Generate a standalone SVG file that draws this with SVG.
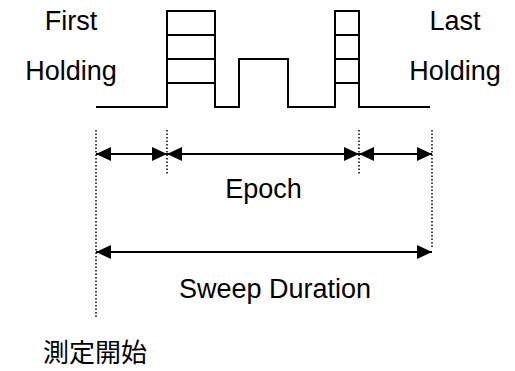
<svg xmlns="http://www.w3.org/2000/svg" width="515" height="371" viewBox="0 0 515 371">
<style>
.t{font-family:"Liberation Sans",Arial,sans-serif;font-size:27px;fill:#000}
.j{font-family:"Noto Sans CJK JP","Noto Sans CJK SC",sans-serif;font-size:26px;fill:#000}
.w{fill:none;stroke:#000;stroke-width:2;stroke-linejoin:miter}
.d{fill:none;stroke:#000;stroke-width:1.5;stroke-dasharray:1.5 2}
.a{fill:none;stroke:#000;stroke-width:2}
</style>
<defs>
<marker id="ah" viewBox="0 0 15 14" refX="15" refY="7" markerWidth="15" markerHeight="14" markerUnits="userSpaceOnUse" orient="auto-start-reverse">
<path d="M0,0 L15,7 L0,14 Z" fill="#000"/>
</marker>
</defs>
<g id="waveform">
<path class="w" d="M96,107 H167 V11 H215 V107 H239 V59 H288 V107 H335 V11 H359 V107 H430"/>
<path class="w" d="M167,35 H215 M167,59 H215 M167,83 H215 M335,35 H359 M335,59 H359 M335,83 H359"/>
</g>
<g id="labels">
<text class="t" x="71" y="30" text-anchor="middle">First</text>
<text class="t" x="71" y="80" text-anchor="middle">Holding</text>
<text class="t" x="455" y="30" text-anchor="middle">Last</text>
<text class="t" x="455" y="80" text-anchor="middle">Holding</text>
<text class="t" x="263.5" y="198" text-anchor="middle">Epoch</text>
<text class="t" x="275" y="298" text-anchor="middle">Sweep Duration</text>
<text class="j" x="95" y="362" text-anchor="middle">測定開始</text>
</g>
<g id="connectors">
<line class="d" x1="96" y1="130" x2="96" y2="318"/>
<line class="d" x1="167" y1="130" x2="167" y2="175"/>
<line class="d" x1="359" y1="130" x2="359" y2="175"/>
<line class="d" x1="432" y1="130" x2="432" y2="247"/>
<line class="a" x1="96" y1="154" x2="167" y2="154" marker-start="url(#ah)" marker-end="url(#ah)"/>
<line class="a" x1="167" y1="154" x2="359" y2="154" marker-start="url(#ah)" marker-end="url(#ah)"/>
<line class="a" x1="359" y1="154" x2="432" y2="154" marker-start="url(#ah)" marker-end="url(#ah)"/>
<line class="a" x1="96" y1="252" x2="432" y2="252" marker-start="url(#ah)" marker-end="url(#ah)"/>
</g>
</svg>
